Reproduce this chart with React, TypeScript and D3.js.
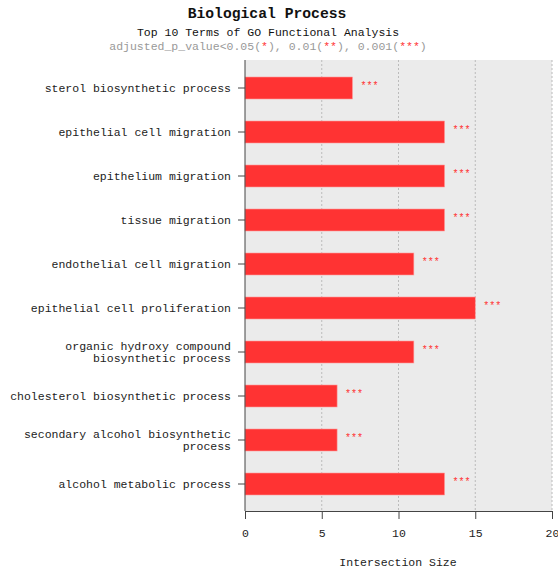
import React, { useEffect, useRef } from 'react';
import * as d3 from 'd3';

const terms = [
  'sterol biosynthetic process',
  'epithelial cell migration',
  'epithelium migration',
  'tissue migration',
  'endothelial cell migration',
  'epithelial cell proliferation',
  'organic hydroxy compound biosynthetic process',
  'cholesterol biosynthetic process',
  'secondary alcohol biosynthetic process',
  'alcohol metabolic process',
];
// wrapped label lines as shown on the axis
const labelLines = [
  ['sterol biosynthetic process'],
  ['epithelial cell migration'],
  ['epithelium migration'],
  ['tissue migration'],
  ['endothelial cell migration'],
  ['epithelial cell proliferation'],
  ['organic hydroxy compound', 'biosynthetic process'],
  ['cholesterol biosynthetic process'],
  ['secondary alcohol biosynthetic', 'process'],
  ['alcohol metabolic process'],
];
const sizes = [7, 13, 13, 13, 11, 15, 11, 6, 6, 13];
const stars = ['***', '***', '***', '***', '***', '***', '***', '***', '***', '***'];
const xTicks = [0, 5, 10, 15, 20];

const FONT = '"Liberation Mono", "DejaVu Sans Mono", monospace';

const App = () => {
  const svgRef = useRef<SVGSVGElement>(null);

  useEffect(() => {
    const svg = d3.select(svgRef.current);
    svg.selectAll('*').remove();
    const left = 245, right = 552, top = 60, bottom = 511;

    const x = d3.scaleLinear().domain([0, 20]).range([left, right]);
    const y = d3.scaleBand<string>()
      .domain(terms)
      .range([66, 506])
      .paddingInner(0.5)
      .paddingOuter(0.25);

    // titles
    svg.append('text').attr('x', 267).attr('y', 18).attr('text-anchor', 'middle')
      .style('font-family', FONT).style('font-size', '14.7px').style('font-weight', 'bold')
      .attr('fill', '#111').text('Biological Process');
    svg.append('text').attr('x', 268).attr('y', 36).attr('text-anchor', 'middle')
      .style('font-family', FONT).style('font-size', '11.5px')
      .attr('fill', '#111').text('Top 10 Terms of GO Functional Analysis');
    const sub = svg.append('text').attr('x', 268).attr('y', 49.5).attr('text-anchor', 'middle')
      .style('font-family', FONT).style('font-size', '11.5px').attr('fill', '#999');
    const parts: [string, string][] = [
      ['adjusted_p_value<0.05(', '#999'], ['*', '#ff3333'], ['), 0.01(', '#999'],
      ['**', '#ff3333'], ['), 0.001(', '#999'], ['***', '#ff3333'], [')', '#999'],
    ];
    parts.forEach(([t, c]) => sub.append('tspan').attr('fill', c).text(t));

    // background
    svg.append('rect').attr('x', left).attr('y', top)
      .attr('width', right - left).attr('height', bottom - top).attr('fill', '#ebebeb');

    // grid
    svg.append('g').selectAll('line').data(xTicks.slice(1)).enter().append('line')
      .attr('x1', d => x(d)).attr('x2', d => x(d)).attr('y1', top).attr('y2', bottom)
      .attr('stroke', '#bbb').attr('stroke-width', 1).attr('stroke-dasharray', '2,2');

    // bars
    svg.append('g').selectAll('rect').data(terms).enter().append('rect')
      .attr('x', x(0))
      .attr('y', d => y(d)!)
      .attr('width', (d, i) => x(sizes[i]) - x(0))
      .attr('height', y.bandwidth())
      .attr('fill', '#ff3333')
      .attr('stroke', '#ff9999').attr('stroke-width', 0.6);

    // significance stars
    svg.append('g').selectAll('text').data(terms).enter().append('text')
      .attr('x', (d, i) => x(sizes[i]) + 8)
      .attr('y', d => y(d)! + y.bandwidth() / 2 + 1)
      .style('font-family', FONT).style('font-size', '10px')
      .attr('fill', '#ff3333').text((d, i) => stars[i]);

    // y axis
    const gy = svg.append('g').attr('transform', `translate(${left},0)`)
      .call(d3.axisLeft(y).tickSize(7).tickFormat(() => ''));
    gy.select('.domain').remove();
    gy.selectAll('.tick line').attr('stroke', '#444');
    svg.append('line').attr('x1', left).attr('x2', left).attr('y1', top).attr('y2', bottom)
      .attr('stroke', '#444');

    const labels = svg.append('g').selectAll('text').data(terms).enter().append('text')
      .attr('text-anchor', 'end')
      .style('font-family', FONT).style('font-size', '11.5px').attr('fill', '#222');
    labels.each(function (d, i) {
      const lines = labelLines[i];
      const cy = y(d)! + y.bandwidth() / 2;
      const lh = 12;
      lines.forEach((ln, j) => {
        d3.select(this).append('tspan')
          .attr('x', 231)
          .attr('y', cy + 4 + (j - (lines.length - 1) / 2) * lh)
          .text(ln);
      });
    });

    // x axis
    const gx = svg.append('g').attr('transform', `translate(0,${bottom})`)
      .call(d3.axisBottom(x).tickValues(xTicks).tickSize(8).tickPadding(10));
    gx.select('.domain').attr('stroke', '#444');
    gx.selectAll('.tick line').attr('stroke', '#444');
    gx.selectAll('.tick text').style('font-family', FONT).style('font-size', '11.5px').attr('fill', '#222');

    svg.append('text').attr('x', 398).attr('y', 566).attr('text-anchor', 'middle')
      .style('font-family', FONT).style('font-size', '11.5px').attr('fill', '#222')
      .text('Intersection Size');
  }, []);

  return (
    <svg ref={svgRef} width={558} height={571}
      style={{ position: 'absolute', left: 0, top: 0, background: '#fff' }} />
  );
};

export default App;
